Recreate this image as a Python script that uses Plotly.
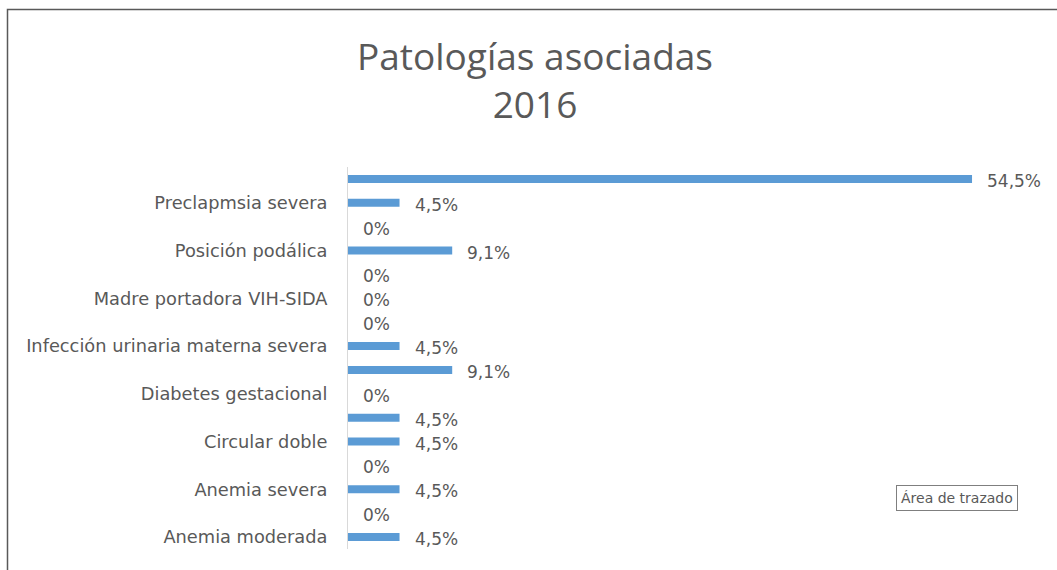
import plotly.graph_objects as go

# Data (bottom to top); None = category whose label is not shown on the axis
categories = [
    "Anemia moderada", None, "Anemia severa", None, "Circular doble", None,
    "Diabetes gestacional", None, "Infección urinaria materna severa", None,
    "Madre portadora VIH-SIDA", None, "Posición podálica", None,
    "Preclapmsia severa", None,
]
values = [4.5, 0, 4.5, 0, 4.5, 4.5, 0, 9.1, 4.5, 0, 0, 0, 9.1, 0, 4.5, 54.5]
title_lines = ["Patologías asociadas", "2016"]

W, H = 1057, 570
L, R, T, B = 348, 22, 167, 21
PW, PH = W - L - R, H - T - B

TXT = "#595959"
TFONT = "Open Sans"
FONT = "DejaVu Sans"

positions = list(range(len(values)))
tickvals = [p for p, c in zip(positions, categories) if c is not None]
ticktext = [c for c in categories if c is not None]

def fmt(v):
    if v == 0:
        return "0%"
    return f"{v:.1f}".replace(".", ",") + "%"

fig = go.Figure()
fig.add_trace(go.Bar(
    x=values, y=positions, orientation="h",
    marker=dict(color="#5b9bd5", line=dict(width=0)),
    width=0.33, hoverinfo="skip",
))

annotations = []
for p, v in zip(positions, values):
    annotations.append(dict(
        x=v, y=p, xref="x", yref="y", text=fmt(v), showarrow=False,
        xanchor="left", yanchor="middle", xshift=13, yshift=-2,
        font=dict(family=FONT, size=17, color=TXT),
    ))

def px_to_paper_x(px):
    return (px - L) / PW

def px_to_paper_y(py):
    return (H - B - py) / PH

# "Área de trazado" tooltip box
annotations.append(dict(
    x=px_to_paper_x(957), y=px_to_paper_y(498), xref="paper", yref="paper",
    text="Área de trazado", showarrow=False, xanchor="center", yanchor="middle",
    font=dict(family=FONT, size=14, color=TXT),
    bordercolor="#7f7f7f", borderwidth=1, borderpad=4, bgcolor="white",
))

fig.update_layout(
    width=W, height=H,
    margin=dict(l=L, r=R, t=T, b=B),
    paper_bgcolor="white", plot_bgcolor="white",
    showlegend=False,
    title=dict(
        text="<br>".join(title_lines),
        x=535 / W, xanchor="center", xref="container",
        y=1 - 70 / H, yanchor="top", yref="container",
        font=dict(family=TFONT, size=37, color=TXT),
    ),
    xaxis=dict(range=[0, 60], visible=False, fixedrange=True),
    yaxis=dict(
        range=[-0.5, len(values) - 0.5],
        tickvals=tickvals, ticktext=ticktext,
        showline=True, linecolor="#d9d9d9", linewidth=1,
        showgrid=False, zeroline=False, ticks="",
        ticklabelstandoff=16, fixedrange=True,
        tickfont=dict(family=FONT, size=17.8, color=TXT),
    ),
    annotations=annotations,
    shapes=[dict(
        type="rect", xref="paper", yref="paper",
        x0=px_to_paper_x(7.5), x1=px_to_paper_x(W + 10),
        y0=px_to_paper_y(H + 10), y1=px_to_paper_y(9.5),
        line=dict(color="#595959", width=1.5), fillcolor="rgba(0,0,0,0)",
        layer="above",
    )],
)

fig.write_html(
    "out.html",
    config={"displayModeBar": False},
    post_script="document.body.style.margin='0';",
)
